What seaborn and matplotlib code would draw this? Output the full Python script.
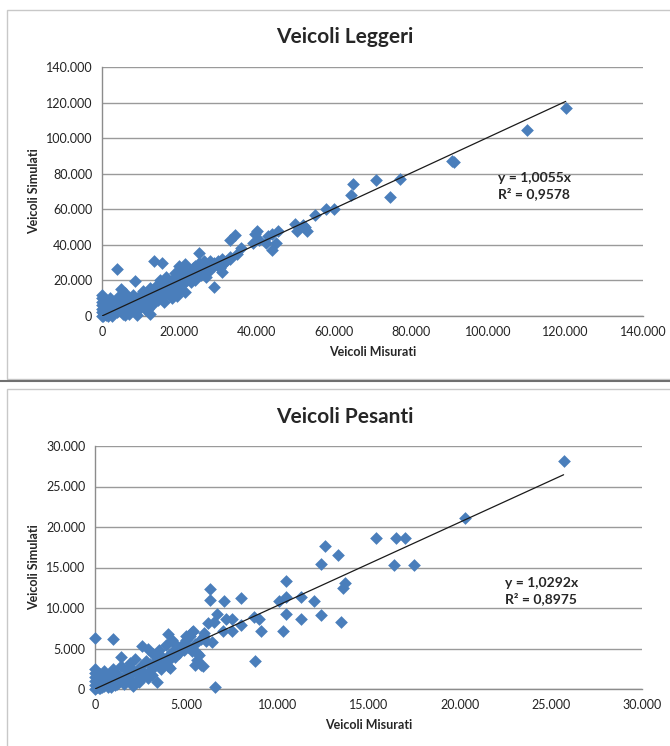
import numpy as np
import pandas as pd
import matplotlib
matplotlib.use("Agg")
import matplotlib.pyplot as plt
import seaborn as sns
from matplotlib.patches import Rectangle
from matplotlib.ticker import FuncFormatter, MultipleLocator

# veicoli leggeri, values in thousands (misurati, simulati)
leggeri_x = [120, 110, 90.5, 91, 77, 74.5, 71, 65, 64.5, 60, 58, 55, 52, 53, 50, 50.5, 52.5,
             45.5, 44, 43, 42.5, 44, 45, 40, 39.5, 40.5, 39, 34.5, 33, 36, 35, 33,
             31, 30.5, 29, 28, 27, 25, 15.5, 13.5, 4, 8.5, 12.5, 21.5, 19.5,
             0, 0, 0, 0, 0, 0, 0, 0.5, 0.5, 1, 1, 1, 1.5, 1.5, 2, 2, 2, 2.5, 3, 3, 3.5, 4, 4, 4.5,
             5, 5, 5, 5.5, 6, 6, 6.5, 7, 7, 7.5, 8, 8, 8.5, 9, 9, 9.5, 10, 10, 10.5, 11, 11, 11.5,
             12, 12, 12.5, 13, 13, 13.5, 14, 14, 14.5, 15, 15, 15.5, 16, 16, 16.5, 17, 17, 17.5,
             18, 18, 18.5, 19, 19, 19.5, 20, 20, 20.5, 21, 21, 21.5, 22, 22, 22.5, 23, 23, 23.5,
             24, 24, 24.5, 25, 25, 25.5, 26, 26, 26.5, 27, 27, 27.5, 28, 28, 29, 29, 30, 30,
             31, 31.5, 32, 33, 7, 9, 12, 16, 18, 20, 24, 1, 3, 6, 2.5, 0.3]
leggeri_y = [117, 104.5, 87, 86.5, 77, 67, 76.5, 74, 68, 60, 60, 57, 51, 48, 52, 48, 50,
             48, 46, 45, 41, 37, 41, 48, 46, 43, 41, 45.5, 43, 38, 35, 32,
             25, 27, 16.5, 30, 22, 35.5, 30, 31, 26.5, 19.5, 1, 13.5, 11.5,
             0, 2, 4, 6, 8, 10, 12, 1, 3, 5, 7, 9, 2, 0, 4, 6, 10, 1, 3, 8, 5, 2, 7, 11,
             4, 9, 15, 1, 6, 13, 3, 8, 10, 5, 4, 12, 7, 10, 3, 8, 12, 6, 14, 9, 4, 11,
             13, 8, 16, 10, 6, 14, 12, 17, 9, 15, 20, 13, 18, 11, 22, 16, 14, 19,
             17, 12, 21, 19, 24, 15, 20, 28, 23, 18, 26, 29, 22, 20, 25, 24, 19, 27,
             22, 28, 25, 26, 30, 23, 28, 24, 31, 27, 29, 25, 31, 27, 30, 28, 31, 29,
             32, 30, 31, 33, 1, 0.5, 4, 8, 10, 14, 20, 0.5, 1.5, 0.5, 0, 0]

# veicoli pesanti, values in thousands (misurati, simulati)
pesanti_x = [25.7, 20.3, 17.5, 17, 16.5, 16.4, 15.4, 13.7, 13.6, 13.5, 13.3, 12.6, 12.4, 12.4,
             12, 11.3, 11.3, 10.5, 10.5, 10.5, 10.3, 10.1, 9.1, 9, 8.7, 8.8, 8, 8, 7.5, 7.5,
             7.2, 7.1, 7, 6.7, 6.6, 6.3, 6.3, 6.5, 6.2, 6.4, 6, 5.8, 5.5, 5.6, 5.3, 5, 4, 1, 0,
             3.4, 4.2, 4,
             0, 0, 0, 0, 0, 0, 0.1, 0.2, 0.3, 0.3, 0.4, 0.5, 0.5, 0.6, 0.7, 0.8, 0.9, 1, 1,
             1.1, 1.2, 1.3, 1.4, 1.4, 1.5, 1.6, 1.7, 1.8, 1.9, 2, 2, 2.1, 2.2, 2.3, 2.4, 2.5,
             2.6, 2.6, 2.7, 2.8, 2.9, 3, 3, 3.1, 3.2, 3.3, 3.4, 3.5, 3.6, 3.7, 3.8, 3.9, 4,
             4, 4.1, 4.2, 4.3, 4.4, 4.5, 4.6, 4.8, 4.9, 5, 5.1, 5.2, 5.3, 5.4, 5.5, 5.6, 5.7,
             5.8, 5.9, 6, 6.1, 0.2, 0.5, 0.9, 1.2, 1.6, 2.1, 2.4, 2.9, 0.1, 0.4]
pesanti_y = [28.1, 21.1, 15.3, 18.6, 18.6, 15.3, 18.6, 13.1, 12.5, 8.3, 16.5, 17.7, 15.4, 9.1,
             10.9, 11.4, 8.7, 13.3, 11.3, 9.3, 7.1, 10.9, 7.2, 8.6, 8.9, 3.5, 11.2, 7.9, 8.7, 7.2,
             8.7, 10.9, 7.1, 9.2, 0.2, 12.4, 11, 8.3, 8.2, 5.8, 6.5, 3, 3, 4.5, 7, 6.5, 6.8, 6.2, 6.3,
             0.9, 6, 2.8,
             0, 0.5, 1, 1.5, 2, 2.5, 0.3, 1.2, 0.1, 1.8, 0.8, 0.4, 2.2, 1.1, 0.2, 1.6, 0.7, 1.3, 2.5,
             0.5, 1.9, 0.9, 2.8, 3.9, 1.4, 0.6, 2.3, 1.1, 3.2, 1.8, 2.6, 0.8, 3.7, 2.1, 1.4, 2.9,
             5.3, 2.2, 1.6, 3.5, 4.9, 2.4, 3.1, 1.7, 4.3, 2.8, 3.6, 4.8, 2.5, 3.9, 3.2, 5.4, 4.1,
             3.5, 2.6, 4.6, 5.8, 3.9, 5.1, 4.5, 5.5, 4.8, 6.1, 5.2, 6.6, 4.7, 7.1, 5.6, 3.6, 4.2,
             6.2, 2.8, 6.9, 5.9, 0.1, 0.9, 0.3, 0.6, 1.0, 0.4, 0.9, 1.3, 0.6, 0.2]

slope_leggeri = 1.0055
slope_pesanti = 1.0292

leggeri = pd.DataFrame({"misurati": np.array(leggeri_x) * 1000,
                        "simulati": np.array(leggeri_y) * 1000})
pesanti = pd.DataFrame({"misurati": np.array(pesanti_x) * 1000,
                        "simulati": np.array(pesanti_y) * 1000})

sns.set_style("white")
plt.rcParams["font.family"] = ["Lato", "DejaVu Sans"]

BLUE = "#4a7ebb"
fmt = FuncFormatter(lambda v, p: f"{int(round(v)):,}".replace(",", "."))

fig = plt.figure(figsize=(6.7, 7.46), dpi=100)

# panel borders like the excel chart areas
W, H = 670, 746
def box(x0, y0, x1, y1, color, lw):
    fig.patches.append(Rectangle((x0 / W, 1 - y1 / H), (x1 - x0) / W, (y1 - y0) / H,
                                 transform=fig.transFigure, fill=False,
                                 edgecolor=color, linewidth=lw))
box(7, 10, 672, 379, "#c8c8c8", 1.0)
box(7, 389, 672, 748, "#c8c8c8", 1.0)
fig.add_artist(plt.Line2D([0, 1], [1 - 381 / H, 1 - 381 / H], transform=fig.transFigure,
                          color="#707070", linewidth=1.5))


def panel(rect, df, slope, xmax, step, title, title_y, eq_xy):
    ax = fig.add_axes(rect)
    sns.scatterplot(data=df, x="misurati", y="simulati", ax=ax, marker="D",
                    s=42, color=BLUE, edgecolor=BLUE, linewidth=0, zorder=3,
                    clip_on=False)
    xl = np.array([0, df["misurati"].max()])
    ax.plot(xl, slope * xl, color="#1a1a1a", linewidth=0.9, zorder=4)
    ax.set_xlim(0, xmax)
    ax.set_ylim(0, xmax)
    ax.xaxis.set_major_locator(MultipleLocator(step))
    ax.yaxis.set_major_locator(MultipleLocator(step))
    ax.xaxis.set_major_formatter(fmt)
    ax.yaxis.set_major_formatter(fmt)
    ax.grid(axis="y", color="#9a9a9a", linewidth=1.0)
    ax.set_axisbelow(True)
    for s in ["top", "right"]:
        ax.spines[s].set_visible(False)
    for s in ["left", "bottom"]:
        ax.spines[s].set_color("#8c8c8c")
        ax.spines[s].set_linewidth(1.0)
    ax.tick_params(axis="both", which="major", direction="out", length=4,
                   color="#8c8c8c", labelsize=9, labelcolor="#222222", pad=3)
    ax.set_xlabel("Veicoli Misurati", fontsize=9, fontweight="bold", labelpad=6)
    ax.set_ylabel("Veicoli Simulati", fontsize=9, fontweight="bold", labelpad=4)
    fig.text(345 / W, 1 - title_y / H, title, ha="center", va="center",
             fontsize=15, fontweight="bold")
    ax.text(eq_xy[0], eq_xy[1], f"y = {slope:.4f}x".replace(".", ",") + "\n"
            + "R² = " + eq_xy[2], transform=fig.transFigure, fontsize=10,
            fontweight="bold", ha="left", va="top", linespacing=1.3)
    return ax


panel([102 / W, 1 - 316 / H, 541 / W, 249 / H], leggeri, slope_leggeri, 140000, 20000,
      "Veicoli Leggeri", 37, (498 / W, 1 - 172 / H, "0,9578"))
panel([95 / W, 1 - 689 / H, 547 / W, 243 / H], pesanti, slope_pesanti, 30000, 5000,
      "Veicoli Pesanti", 417, (505 / W, 1 - 577 / H, "0,8975"))

fig.savefig("out.png", dpi=100)
